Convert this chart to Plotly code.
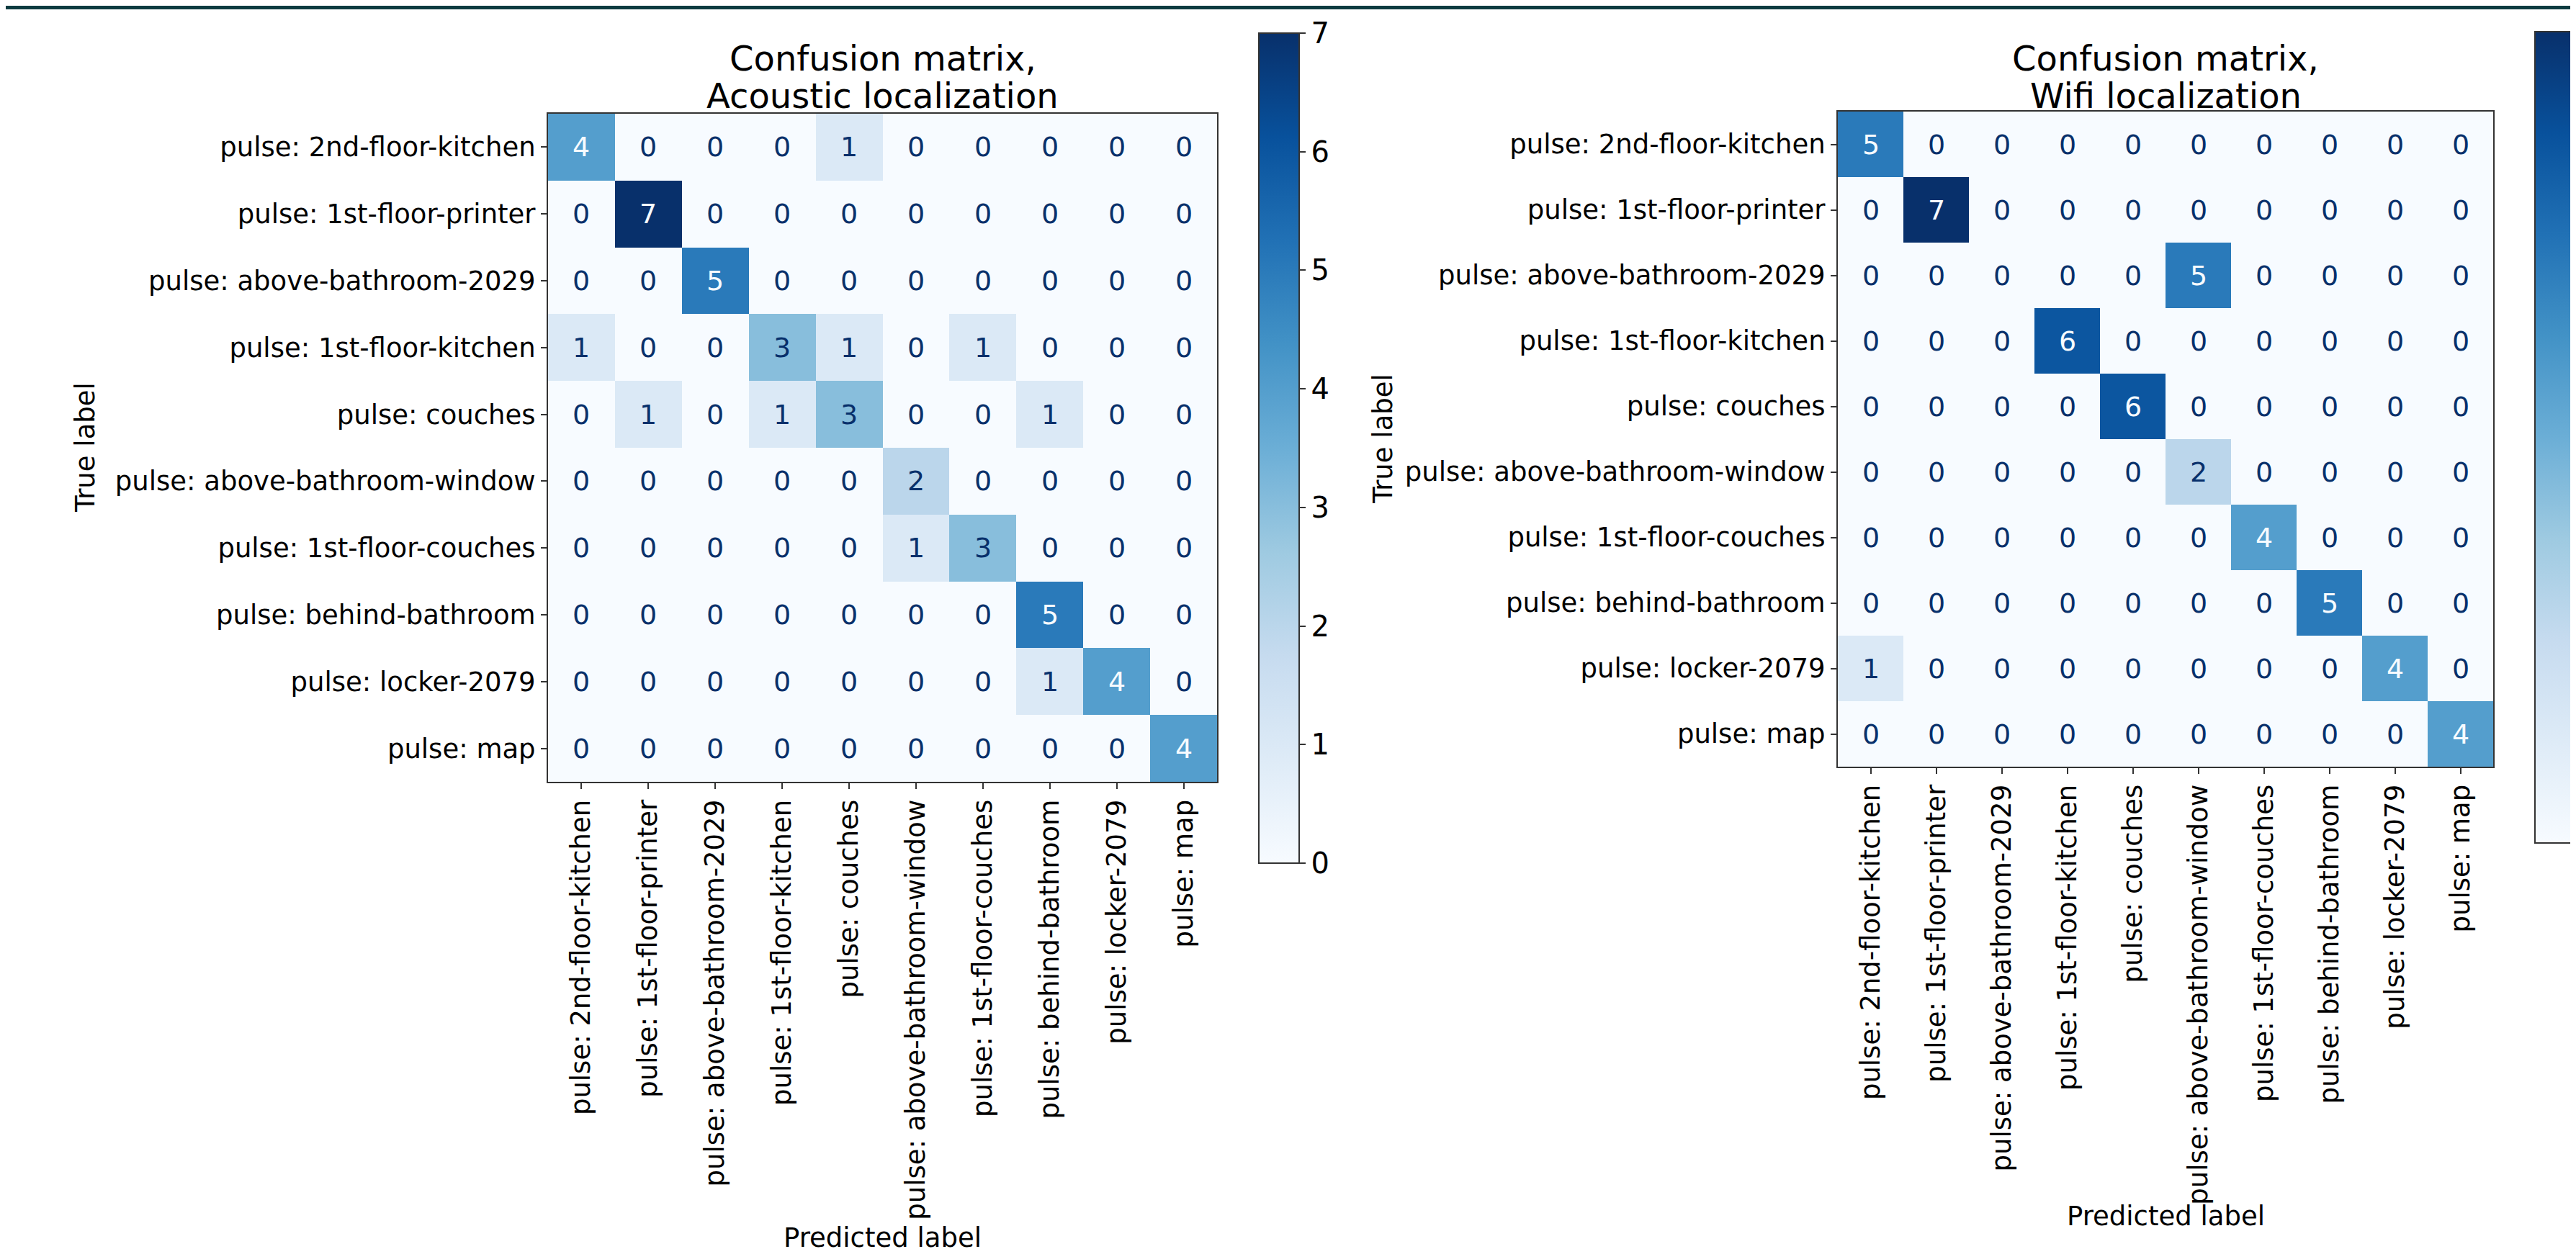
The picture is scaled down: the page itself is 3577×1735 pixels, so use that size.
import plotly.graph_objects as go

W, H = 3577, 1735

labels = [
    "pulse: 2nd-floor-kitchen",
    "pulse: 1st-floor-printer",
    "pulse: above-bathroom-2029",
    "pulse: 1st-floor-kitchen",
    "pulse: couches",
    "pulse: above-bathroom-window",
    "pulse: 1st-floor-couches",
    "pulse: behind-bathroom",
    "pulse: locker-2079",
    "pulse: map",
]

acoustic = [
    [4, 0, 0, 0, 1, 0, 0, 0, 0, 0],
    [0, 7, 0, 0, 0, 0, 0, 0, 0, 0],
    [0, 0, 5, 0, 0, 0, 0, 0, 0, 0],
    [1, 0, 0, 3, 1, 0, 1, 0, 0, 0],
    [0, 1, 0, 1, 3, 0, 0, 1, 0, 0],
    [0, 0, 0, 0, 0, 2, 0, 0, 0, 0],
    [0, 0, 0, 0, 0, 1, 3, 0, 0, 0],
    [0, 0, 0, 0, 0, 0, 0, 5, 0, 0],
    [0, 0, 0, 0, 0, 0, 0, 1, 4, 0],
    [0, 0, 0, 0, 0, 0, 0, 0, 0, 4],
]

wifi = [
    [5, 0, 0, 0, 0, 0, 0, 0, 0, 0],
    [0, 7, 0, 0, 0, 0, 0, 0, 0, 0],
    [0, 0, 0, 0, 0, 5, 0, 0, 0, 0],
    [0, 0, 0, 6, 0, 0, 0, 0, 0, 0],
    [0, 0, 0, 0, 6, 0, 0, 0, 0, 0],
    [0, 0, 0, 0, 0, 2, 0, 0, 0, 0],
    [0, 0, 0, 0, 0, 0, 4, 0, 0, 0],
    [0, 0, 0, 0, 0, 0, 0, 5, 0, 0],
    [1, 0, 0, 0, 0, 0, 0, 0, 4, 0],
    [0, 0, 0, 0, 0, 0, 0, 0, 0, 4],
]

titles = ["Confusion matrix,", "Acoustic localization", "Wifi localization"]
colorbar_ticks = [0, 1, 2, 3, 4, 5, 6, 7]

blues_hex = ["#f7fbff", "#deebf7", "#c6dbef", "#9ecae1", "#6baed6",
             "#4292c6", "#2171b5", "#08519c", "#08306b"]
blues = [[i / 8, c] for i, c in enumerate(blues_hex)]

FONT = "DejaVu Sans"
FS = 37
LINE = "#333333"


def px_x(p):
    return p / W


def px_y(p):
    return 1 - p / H


idx = list(range(len(labels)))

fig = go.Figure()

panels = [
    dict(z=acoustic, xa="x", ya="y", xd=(753, 1682), yd=(150, 1078),
         cb_x=1740, cb_th=56, cb_top=38, cb_bot=1191, cb_labels=True,
         title2=titles[1], ylab_x=110, xlab_y=1711),
    dict(z=wifi, xa="x2", ya="y2", xd=(2544, 3454), yd=(147, 1057),
         cb_x=3512, cb_th=54, cb_top=36, cb_bot=1163, cb_labels=False,
         title2=titles[2], ylab_x=1912, xlab_y=1681),
]

annotations = []
for k, p in enumerate(panels):
    zmax = max(max(r) for r in p["z"])
    zmin = min(min(r) for r in p["z"])
    thresh = (zmax + zmin) / 2
    fig.add_trace(go.Heatmap(
        z=p["z"], x=idx, y=idx, xaxis=p["xa"], yaxis=p["ya"],
        colorscale=blues, zmin=0, zmax=7, hoverinfo="skip",
        colorbar=dict(
            x=px_x(p["cb_x"]), xanchor="left", xpad=0, ypad=0,
            y=px_y(p["cb_top"]), yanchor="top",
            len=(p["cb_bot"] - p["cb_top"]) / H, lenmode="fraction",
            thickness=p["cb_th"], thicknessmode="pixels",
            outlinecolor=LINE, outlinewidth=2,
            tickvals=colorbar_ticks, ticks="outside", ticklen=8,
            tickwidth=2, tickcolor=LINE, showticklabels=p["cb_labels"],
            tickfont=dict(family=FONT, size=40, color="black"),
        ),
    ))
    for i, row in enumerate(p["z"]):
        for j, v in enumerate(row):
            annotations.append(dict(
                x=j, y=i, xref=p["xa"], yref=p["ya"], text=str(v),
                showarrow=False,
                font=dict(family=FONT, size=38,
                          color="#f7fbff" if v >= thresh else "#08306b"),
            ))
    cx = (p["xd"][0] + p["xd"][1]) / 2
    cy = (p["yd"][0] + p["yd"][1]) / 2
    annotations.append(dict(x=px_x(cx), y=px_y(73), xref="paper", yref="paper",
                            text=titles[0], showarrow=False, xanchor="center",
                            yanchor="middle",
                            font=dict(family=FONT, size=48, color="black")))
    annotations.append(dict(x=px_x(cx), y=px_y(125), xref="paper", yref="paper",
                            text=p["title2"], showarrow=False, xanchor="center",
                            yanchor="middle",
                            font=dict(family=FONT, size=48, color="black")))
    annotations.append(dict(x=px_x(p["ylab_x"]), y=px_y(cy), xref="paper",
                            yref="paper", text="True label", showarrow=False,
                            textangle=-90, xanchor="center", yanchor="middle",
                            font=dict(family=FONT, size=FS, color="black")))
    annotations.append(dict(x=px_x(cx), y=px_y(p["xlab_y"]), xref="paper",
                            yref="paper", text="Predicted label", showarrow=False,
                            xanchor="center", yanchor="middle",
                            font=dict(family=FONT, size=FS, color="black")))

    axcommon = dict(tickvals=idx, ticktext=labels, ticks="outside", ticklen=8,
                    tickwidth=2, tickcolor=LINE, showline=True, mirror=True,
                    linecolor=LINE, linewidth=2, showgrid=False, zeroline=False,
                    tickfont=dict(family=FONT, size=FS, color="black"),
                    fixedrange=True)
    xkey = "xaxis" if k == 0 else "xaxis2"
    ykey = "yaxis" if k == 0 else "yaxis2"
    fig.update_layout(**{
        xkey: dict(domain=[px_x(p["xd"][0]), px_x(p["xd"][1])],
                   range=[-0.5, 9.5], anchor=p["ya"], tickangle=-90,
                   **axcommon),
        ykey: dict(domain=[px_y(p["yd"][1]), px_y(p["yd"][0])],
                   range=[9.5, -0.5], anchor=p["xa"], **axcommon),
    })

fig.update_layout(
    width=W, height=H,
    margin=dict(l=0, r=0, t=0, b=0, pad=0, autoexpand=False),
    paper_bgcolor="white", plot_bgcolor="white",
    annotations=annotations,
    shapes=[dict(type="rect", xref="paper", yref="paper", x0=0, x1=1,
                 y0=px_y(5), y1=1, fillcolor="#0d3b40", line=dict(width=0),
                 layer="above")],
    showlegend=False,
)

fig.write_html("out.html")
